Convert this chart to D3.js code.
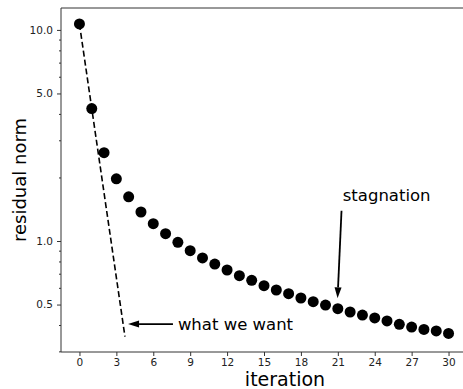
<!DOCTYPE html>
<html>
<head>
<script src="https://d3js.org/d3.v7.min.js"></script>
<style>
  body { margin: 0; background: #fff; }
  svg { font-family: "DejaVu Sans", sans-serif; }
</style>
</head>
<body>
<svg id="viz" width="463" height="389"></svg>
<script>
// residual norm per iteration
var iterations = d3.range(0, 31);
var residuals = [10.67, 4.24, 2.62, 1.97, 1.62, 1.372, 1.208, 1.083, 0.986, 0.900,
                 0.831, 0.778, 0.729, 0.685, 0.651, 0.614, 0.586, 0.563, 0.537, 0.516,
                 0.497, 0.478, 0.461, 0.446, 0.432, 0.418, 0.403, 0.391, 0.381, 0.375, 0.365];
// the ideal convergence, dashed
var idealX = [0, 3.7];
var idealY = [10.67, 0.352];
var xTicks = d3.range(0, 31, 3);
var yTicks = [0.5, 1.0, 5.0, 10.0];
var yMinor = [0.3, 0.4, 0.6, 0.7, 0.8, 0.9, 2, 3, 4, 6, 7, 8, 9];

var svg = d3.select("#viz");
var padLeft = 61, padTop = 8, padBottom = 352, padRight = 467;

var x = d3.scaleLinear().domain([-1.5, 31.5]).range([padLeft, padRight]);
var y = d3.scaleLog().domain([0.298, 12.7]).range([padBottom, padTop]);

// frame (right side runs past the picture edge)
svg.append("path")
  .attr("d", "M" + (padRight + 5) + "," + padTop + "H" + padLeft + "V" + padBottom + "H" + (padRight + 5))
  .attr("fill", "none").attr("stroke", "#333").attr("stroke-width", 1);

svg.append("g").attr("transform", "translate(0," + padBottom + ")")
  .call(d3.axisBottom(x).tickValues(xTicks).tickSize(4).tickPadding(3).tickFormat(d3.format("d")));
svg.append("g").attr("transform", "translate(" + padLeft + ",0)")
  .call(d3.axisLeft(y).tickValues(yTicks).tickSize(4).tickPadding(4).tickFormat(d3.format(".1f")));
svg.append("g").attr("transform", "translate(" + padLeft + ",0)")
  .call(d3.axisLeft(y).tickValues(yMinor).tickSize(2).tickFormat(""));

svg.selectAll(".domain").remove();
svg.selectAll(".tick line").attr("stroke", "#333");
svg.selectAll(".tick text").attr("fill", "#222").style("font-size", "10.5px")
  .style("font-family", "DejaVu Sans");

// dashed ideal line
svg.append("path")
  .datum(d3.zip(idealX, idealY))
  .attr("d", d3.line().x(function (d) { return x(d[0]); }).y(function (d) { return y(d[1]); }))
  .attr("fill", "none").attr("stroke", "#000").attr("stroke-width", 1.6)
  .attr("stroke-dasharray", "6,3");

// markers
svg.selectAll("circle.pt")
  .data(d3.zip(iterations, residuals)).enter()
  .append("circle").attr("class", "pt")
  .attr("cx", function (d) { return x(d[0]); })
  .attr("cy", function (d) { return y(d[1]); })
  .attr("r", 5.5).attr("fill", "#000");

// annotations
var notes = [
  { text: "what we want", tip: [3.95, 0.404], tail: [7.6, 0.404], pos: [8.0, 0.379] },
  { text: "stagnation", tip: [20.98, 0.535], tail: [21.3, 1.39], pos: [21.4, 1.55] }
];

notes.forEach(function (n) {
  var x1 = x(n.tail[0]), y1 = y(n.tail[1]);
  var x2 = x(n.tip[0]), y2 = y(n.tip[1]);
  var ang = Math.atan2(y2 - y1, x2 - x1);
  var hl = 11, hw = 3.5;
  var bx = x2 - hl * Math.cos(ang), by = y2 - hl * Math.sin(ang);
  svg.append("line")
    .attr("x1", x1).attr("y1", y1).attr("x2", bx).attr("y2", by)
    .attr("stroke", "#000").attr("stroke-width", 1.8);
  svg.append("path")
    .attr("d", "M" + x2 + "," + y2 +
      "L" + (bx + hw * Math.sin(ang)) + "," + (by - hw * Math.cos(ang)) +
      "L" + (bx - hw * Math.sin(ang)) + "," + (by + hw * Math.cos(ang)) + "Z")
    .attr("fill", "#000");
  svg.append("text")
    .attr("x", x(n.pos[0])).attr("y", y(n.pos[1]))
    .style("font-size", "16.5px").attr("fill", "#000")
    .text(n.text);
});

// axis labels
svg.append("text")
  .attr("x", 285).attr("y", 386)
  .attr("text-anchor", "middle")
  .style("font-size", "19px")
  .text("iteration");

svg.append("text")
  .attr("transform", "translate(26,180) rotate(-90)")
  .attr("text-anchor", "middle")
  .style("font-size", "18px")
  .text("residual norm");
</script>
</body>
</html>
